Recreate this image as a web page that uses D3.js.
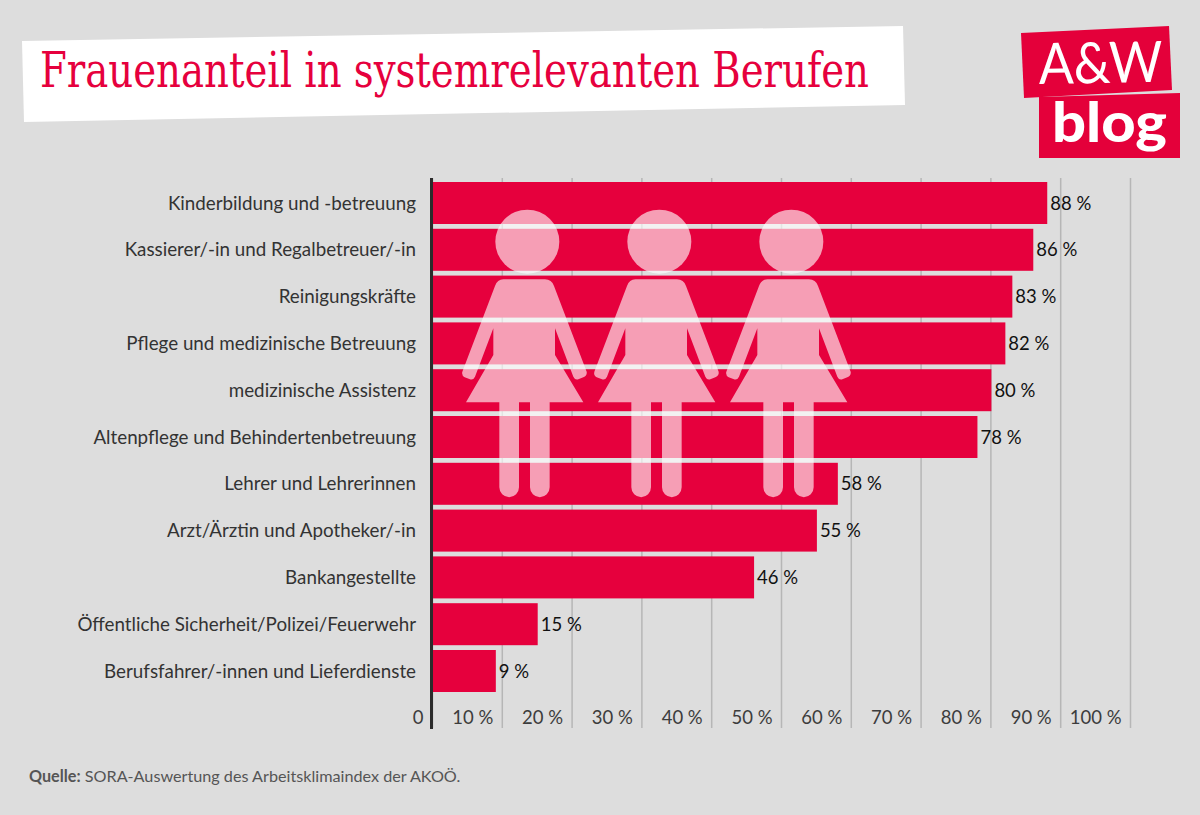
<!DOCTYPE html>
<html lang="de">
<head>
<meta charset="utf-8">
<script src="https://cdn.jsdelivr.net/npm/d3@7/dist/d3.min.js"></script>
<style>
html,body{margin:0;padding:0;background:#dddddd;overflow:hidden}
svg{display:block}
text{font-family:Lato,"Noto Sans",sans-serif}
</style>
</head>
<body>
<svg id="c" width="1200" height="815"></svg>
<script>
const titleText = "Frauenanteil in systemrelevanten Berufen";
const categories = ["Kinderbildung und -betreuung","Kassierer/-in und Regalbetreuer/-in","Reinigungskräfte","Pflege und medizinische Betreuung","medizinische Assistenz","Altenpflege und Behindertenbetreuung","Lehrer und Lehrerinnen","Arzt/Ärztin und Apotheker/-in","Bankangestellte","Öffentliche Sicherheit/Polizei/Feuerwehr","Berufsfahrer/-innen und Lieferdienste"];
const values = [88,86,83,82,80,78,58,55,46,15,9];
const tickValues = [0,10,20,30,40,50,60,70,80,90,100];
const tickLabels = ["0","10 %","20 %","30 %","40 %","50 %","60 %","70 %","80 %","90 %","100 %"];
const figureSlots = [0,1,2];

const RED = "#e6003d";
const svg = d3.select("#c");
const x = d3.scaleLinear().domain([0,100]).range([432,1130]);
const y = d3.scaleBand().domain(categories).range([182,692]).paddingInner(4.8/46.8).paddingOuter(0);

// title panel
svg.append("polygon").attr("points","22,41 903,26 905,105 24,122").attr("fill","#fff");
svg.append("text").text(titleText).attr("x",40).attr("y",87)
  .attr("textLength",829).attr("lengthAdjust","spacingAndGlyphs")
  .style("font-family","'DejaVu Serif Condensed','DejaVu Serif',serif").style("font-size","48px").attr("fill",RED);

// logo
svg.append("polygon").attr("points","1021,33 1169,26 1172,90 1024,98").attr("fill","#e4003a");
svg.append("polygon").attr("points","1039,97 1180,93 1180,158 1039,158").attr("fill","#e4003a");
svg.append("text").text("A&W").attr("transform","translate(1039,84) rotate(-1)")
  .attr("textLength",124).attr("lengthAdjust","spacingAndGlyphs")
  .style("font-size","57px").style("font-weight",400).attr("fill","#fff");
svg.append("text").text("blog").attr("x",1052).attr("y",142)
  .attr("textLength",115).attr("lengthAdjust","spacingAndGlyphs")
  .style("font-size","55px").style("font-weight",900).attr("fill","#fff");

// grid / x axis
const axis = d3.axisBottom(x).tickValues(tickValues)
  .tickFormat((d,i)=>tickLabels[i]).tickSizeInner(-550).tickSizeOuter(0);
const gx = svg.append("g").attr("transform","translate(0,728)").call(axis);
gx.select(".domain").remove();
gx.selectAll(".tick line").attr("stroke","#b6b6b6").attr("stroke-width",1.5);
gx.selectAll(".tick text").attr("x",-9).attr("y",-4).attr("dy",0)
  .attr("text-anchor","end").attr("fill","#3c3c3c").style("font-size","18.5px");

// bars
svg.append("g").attr("transform","translate(1,0)").selectAll("rect").data(values).join("rect")
  .attr("x",x(0)).attr("y",(d,i)=>y(categories[i]))
  .attr("width",d=>x(d)-x(0)).attr("height",y.bandwidth()).attr("fill",RED);

// zero line
svg.append("line").attr("x1",x(0)-0.5).attr("x2",x(0)-0.5).attr("y1",178).attr("y2",729)
  .attr("stroke","#2b2b2b").attr("stroke-width",3);

// category labels
svg.append("g").selectAll("text").data(categories).join("text").text(d=>d)
  .attr("x",416).attr("y",d=>y(d)+y.bandwidth()/2+6.5).attr("text-anchor","end")
  .attr("fill","#333").style("font-size","18.8px");

// value labels
svg.append("g").selectAll("text").data(values).join("text").text(d=>d+" %")
  .attr("x",d=>x(d)+4).attr("y",(d,i)=>y(categories[i])+y.bandwidth()/2+6.5)
  .attr("fill","#111").style("font-size","18.5px");

// figures (drawn in 3x local units)
const body = "M190,238 L315,238 Q335,238 342,258 L440,515 Q442,526 430,532 L415,538 Q405,541 400,530 L345,385 L345,465 L430,607 L329,607 L329,862 A29.5,29.5 0 0 1 270,862 L270,607 L237,607 L237,862 A29.5,29.5 0 0 1 178,862 L178,607 L78,607 L160,465 L160,385 L105,530 Q100,541 90,538 L74,532 Q64,526 67,515 L165,258 Q172,238 190,238 Z";
const figs = svg.append("g").selectAll("g").data(figureSlots).join("g")
  .attr("transform",d=>`translate(${440+132*d},200) scale(${1/3})`)
  .attr("fill","#fff").attr("fill-opacity",0.62);
figs.append("circle").attr("cx",262).attr("cy",125).attr("r",96);
figs.append("path").attr("d",body);

// source
const src = svg.append("text").attr("x",29).attr("y",782).attr("fill","#555").style("font-size","16.2px");
src.append("tspan").text("Quelle:").style("font-weight",700);
src.append("tspan").text(" SORA-Auswertung des Arbeitsklimaindex der AKOÖ.");
</script>
</body>
</html>
